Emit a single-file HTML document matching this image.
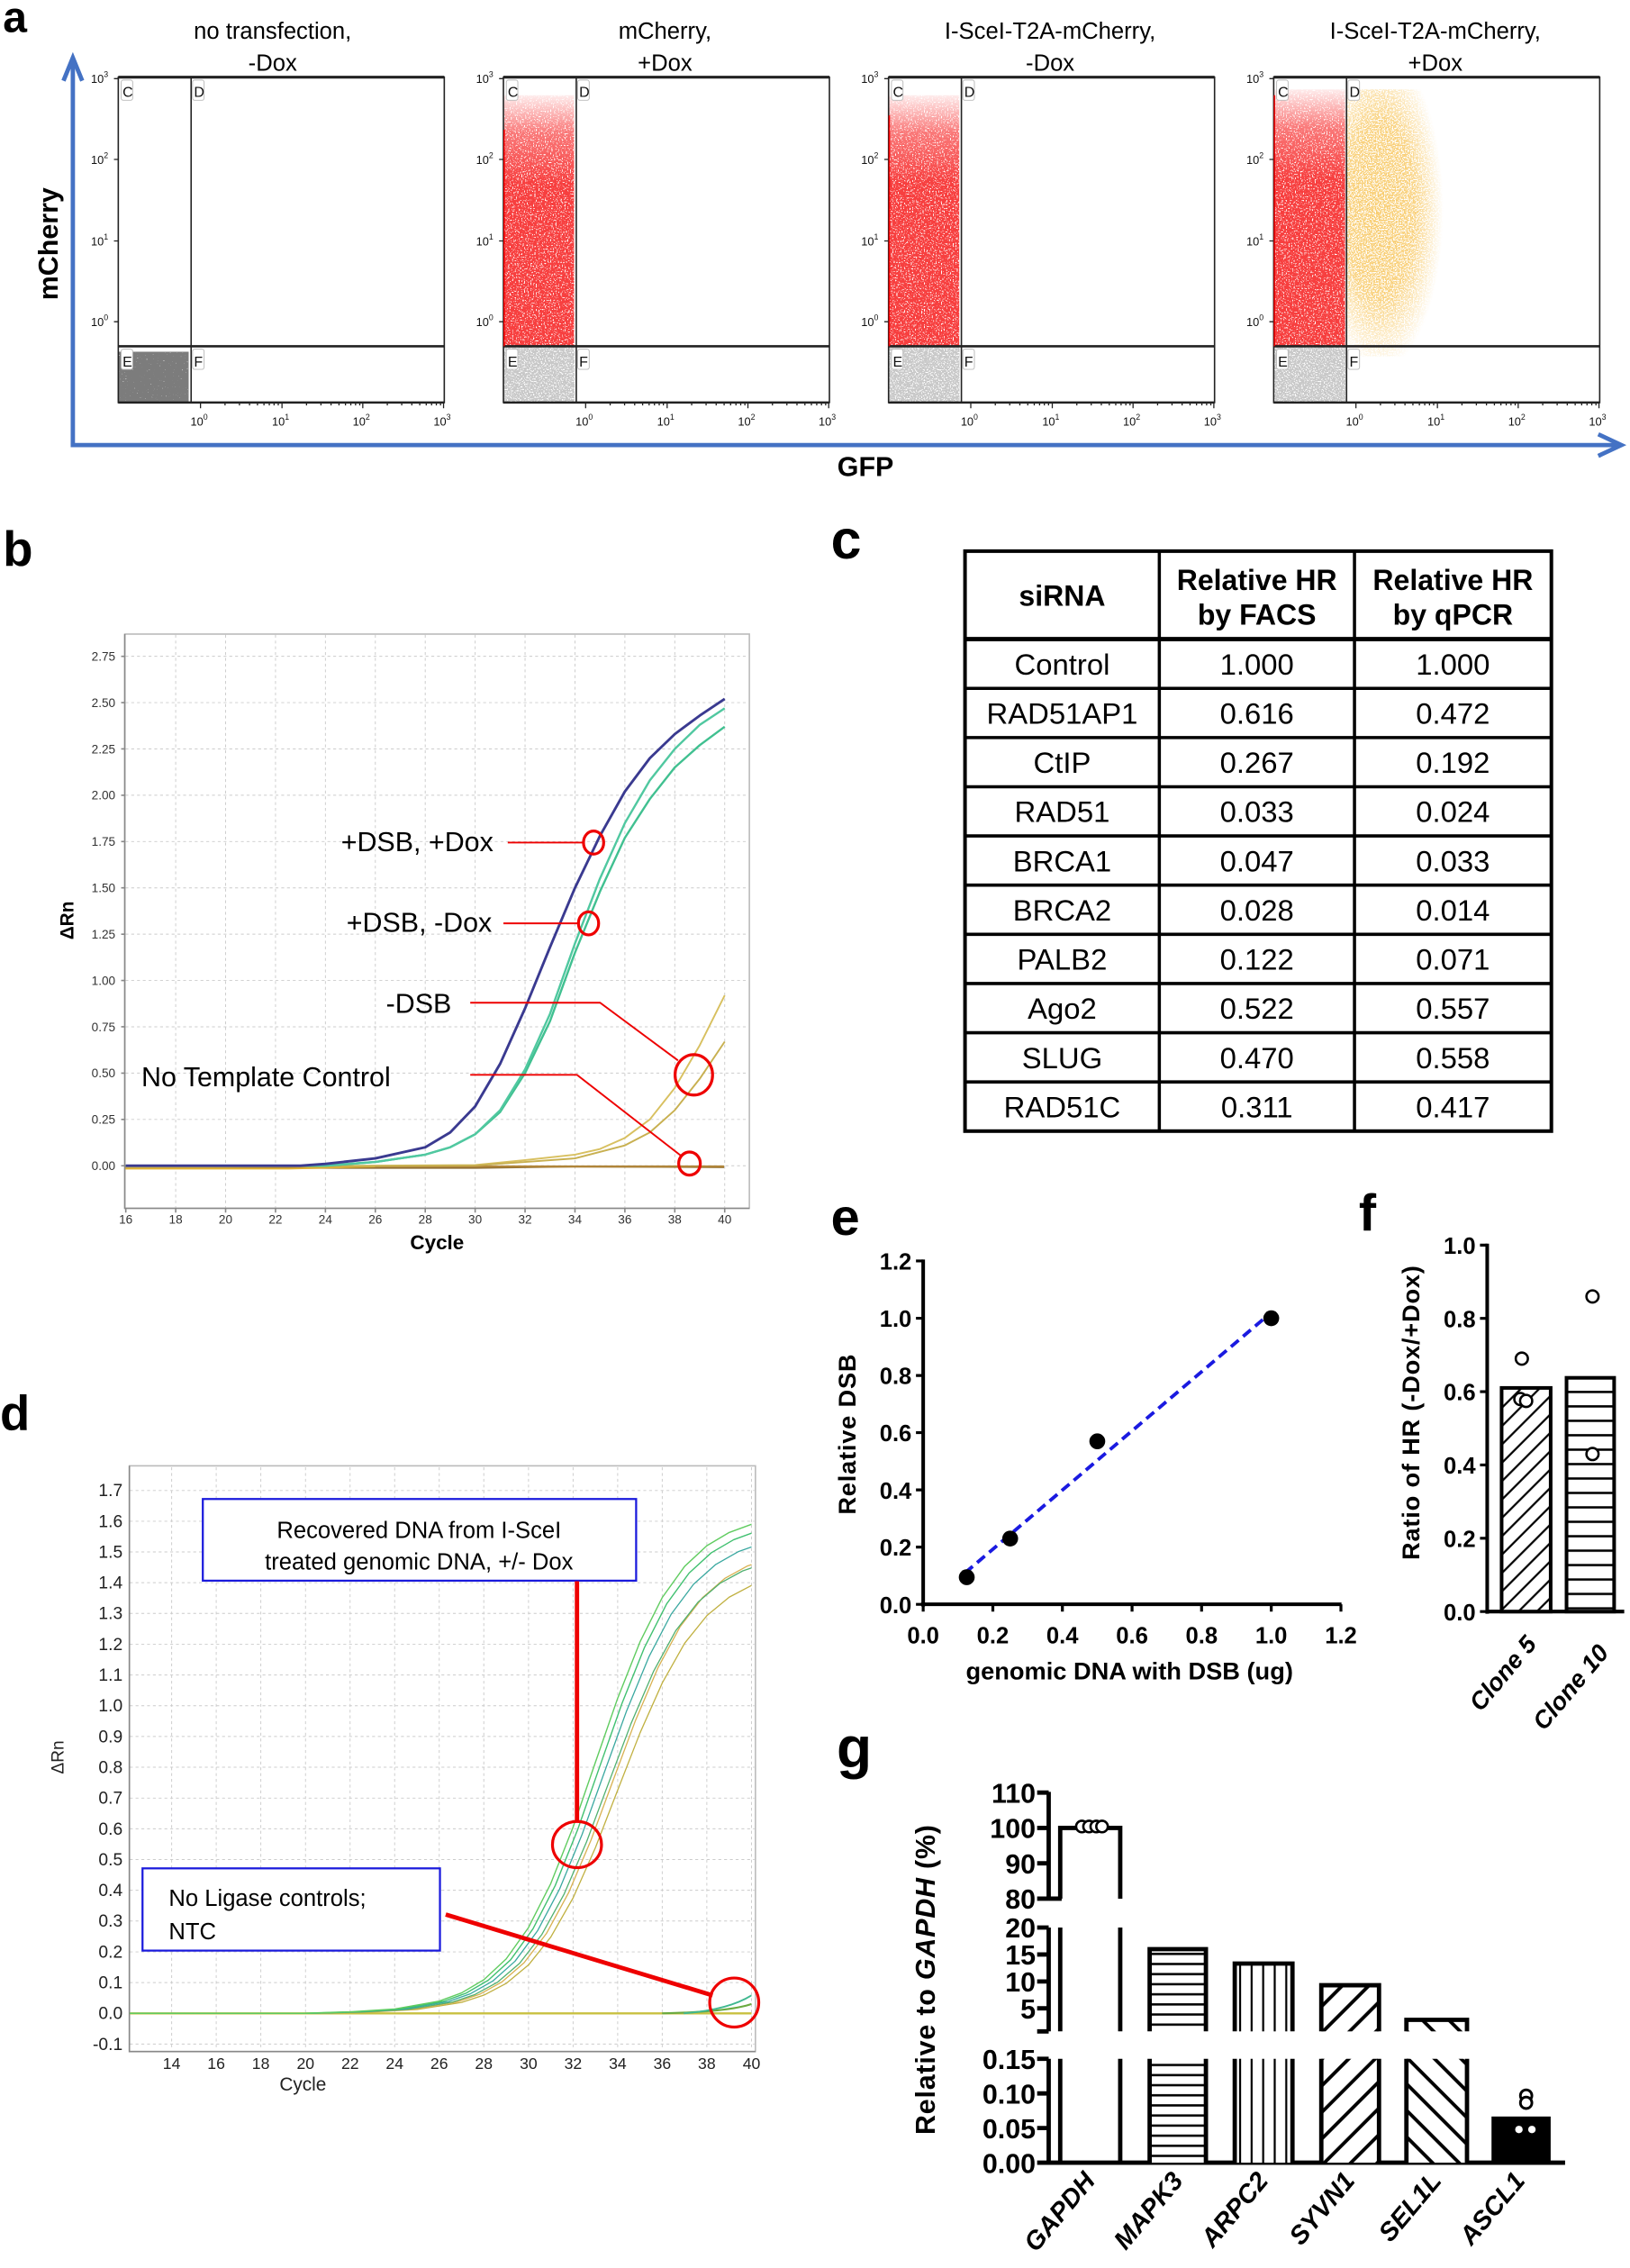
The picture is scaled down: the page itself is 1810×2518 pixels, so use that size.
<!DOCTYPE html>
<html><head><meta charset="utf-8"><style>
html,body{margin:0;padding:0;background:#fff}
svg{display:block}
text{font-family:"Liberation Sans",Arial,sans-serif}
</style></head><body>
<svg xmlns="http://www.w3.org/2000/svg" xmlns:xlink="http://www.w3.org/1999/xlink" width="1810" height="2518" viewBox="0 0 1130 1572" preserveAspectRatio="none">
<defs>
<filter id="fR" x="0" y="0" width="1" height="1" filterUnits="objectBoundingBox"><feTurbulence type="fractalNoise" baseFrequency="1.1" numOctaves="1" seed="3"/><feColorMatrix type="matrix" values="0 0 0 0 0.93 0 0 0 0 0.05 0 0 0 0 0.05 12 0 0 0 -4.0"/></filter>
<filter id="fG" x="0" y="0" width="1" height="1" filterUnits="objectBoundingBox"><feTurbulence type="fractalNoise" baseFrequency="1.1" numOctaves="1" seed="7"/><feColorMatrix type="matrix" values="0 0 0 0 0.58 0 0 0 0 0.58 0 0 0 0 0.58 10 0 0 0 -3.6"/></filter>
<filter id="fK" x="0" y="0" width="1" height="1" filterUnits="objectBoundingBox"><feTurbulence type="fractalNoise" baseFrequency="1.1" numOctaves="1" seed="5"/><feColorMatrix type="matrix" values="0 0 0 0 0.2 0 0 0 0 0.2 0 0 0 0 0.2 14 0 0 0 -3.0"/></filter>
<filter id="fO" x="0" y="0" width="1" height="1" filterUnits="objectBoundingBox"><feTurbulence type="fractalNoise" baseFrequency="1.1" numOctaves="1" seed="11"/><feColorMatrix type="matrix" values="0 0 0 0 0.94 0 0 0 0 0.6 0 0 0 0 0.15 10 0 0 0 -4.2"/></filter>
<linearGradient id="gv" x1="0" y1="0" x2="0" y2="1"><stop offset="0" stop-color="#fff" stop-opacity="0.1"/><stop offset="0.15" stop-color="#fff" stop-opacity="0.7"/><stop offset="0.35" stop-color="#fff" stop-opacity="1"/></linearGradient>
<mask id="mRed" maskContentUnits="objectBoundingBox"><rect width="1" height="1" fill="url(#gv)"/></mask>
<radialGradient id="gr" cx="0.3" cy="0.45" r="0.6"><stop offset="0" stop-color="#fff"/><stop offset="0.55" stop-color="#fff" stop-opacity="0.9"/><stop offset="1" stop-color="#fff" stop-opacity="0"/></radialGradient>
<mask id="mOr" maskContentUnits="objectBoundingBox"><rect width="1" height="1" fill="url(#gr)"/></mask>
<pattern id="hH" width="8" height="7" patternUnits="userSpaceOnUse"><rect width="8" height="7" fill="#fff"/><rect y="2.5" width="8" height="1.6" fill="#000"/></pattern>
<pattern id="hV" width="8" height="8" patternUnits="userSpaceOnUse"><rect width="8" height="8" fill="#fff"/><rect x="3" width="1.4" height="8" fill="#000"/></pattern>
<pattern id="hD" width="13" height="13" patternUnits="userSpaceOnUse" patternTransform="rotate(45)"><rect width="13" height="13" fill="#fff"/><rect x="5" width="2.4" height="13" fill="#000"/></pattern>
<pattern id="hB" width="13" height="13" patternUnits="userSpaceOnUse" patternTransform="rotate(-45)"><rect width="13" height="13" fill="#fff"/><rect x="5" width="2.4" height="13" fill="#000"/></pattern>
<pattern id="hF" width="9" height="9" patternUnits="userSpaceOnUse" patternTransform="rotate(45)"><rect width="9" height="9" fill="#fff"/><rect x="3.5" width="1.4" height="9" fill="#000"/></pattern>
<pattern id="hH2" width="10" height="10" patternUnits="userSpaceOnUse"><rect width="10" height="10" fill="#fff"/><rect y="4" width="10" height="1.6" fill="#000"/></pattern>
<g id="frame" fill="none" stroke="#222" stroke-width="1">
<rect x="0" y="53.5" width="226" height="225.5"/>
<line x1="0" y1="53.5" x2="226" y2="53.5" stroke-width="2"/>
<line x1="50.5" y1="53.5" x2="50.5" y2="279"/>
<line x1="0" y1="240" x2="226" y2="240" stroke-width="1.6"/>
<line x1="0" y1="279" x2="226" y2="279" stroke-width="1.6"/>
<path d="M57 279v4M113.5 279v4M169.5 279v4M225.5 279v4M74 279v2M84 279v2M91 279v2M96.5 279v2M101 279v2M104.7 279v2M108 279v2M110.9 279v2M130.5 279v2M140.5 279v2M147.5 279v2M153 279v2M157.5 279v2M161.2 279v2M164.5 279v2M167.4 279v2M186.5 279v2M196.5 279v2M203.5 279v2M209 279v2M213.5 279v2M217.2 279v2M220.5 279v2M223.4 279v2M-3 54.5h3M-3 110.5h3M-3 167h3M-3 223h3" stroke-width="0.8"/>
<g fill="#fff" stroke="#bbb" stroke-width="0.6"><rect x="2" y="55.5" width="8" height="14" rx="1.5"/><rect x="51.5" y="55.5" width="8" height="14" rx="1.5"/><rect x="2" y="242" width="8" height="14" rx="1.5"/><rect x="51.5" y="242" width="8" height="14" rx="1.5"/></g>
</g>
<path id="dA" d="M40 1395.5L90 1395.5L211.8 1395.4L242.7 1394.4L273.6 1392.5L304.5 1387L320 1381.3L335.4 1372.2L350.9 1357.8L366.4 1336L381.8 1305.6L397.3 1266.4L412.7 1221.7L428.2 1177.1L443.7 1138L459.1 1107.3L474.6 1085.7L490 1071.4L505.5 1062.2L521 1056.5L536.4 1054.4L551.9 1053.3" fill="none" vector-effect="non-scaling-stroke" stroke-linejoin="round"/>
<clipPath id="cD"><rect x="90" y="1016" width="431" height="406"/></clipPath>
</defs>
<rect width="1130" height="1572" fill="#fff"/>

<!-- Panel a -->
<text x="2" y="22" font-size="30" font-weight="bold">a</text>
<rect x="82.5" y="244" width="48" height="34.5" filter="url(#fK)"/>
<g mask="url(#mRed)"><rect x="349.5" y="66" width="48.5" height="173.5" filter="url(#fR)"/></g>
<rect x="349.5" y="240.5" width="48.5" height="38" filter="url(#fG)"/>
<g mask="url(#mRed)"><rect x="616.5" y="66" width="48.5" height="173.5" filter="url(#fR)"/></g>
<rect x="616.5" y="240.5" width="48.5" height="38" filter="url(#fG)"/>
<g mask="url(#mRed)"><rect x="883.5" y="62" width="49" height="177.5" filter="url(#fR)"/></g>
<rect x="883.5" y="240.5" width="49" height="38" filter="url(#fG)"/>
<g mask="url(#mOr)"><rect x="934" y="62" width="74" height="185" filter="url(#fO)"/></g>
<use xlink:href="#frame" href="#frame" x="82"/>
<use xlink:href="#frame" href="#frame" x="349"/>
<use xlink:href="#frame" href="#frame" x="616"/>
<use xlink:href="#frame" href="#frame" x="883"/>
<line x1="883.5" y1="66" x2="883.5" y2="240" stroke="#e00" stroke-width="1"/>
<line x1="349.5" y1="90" x2="349.5" y2="240" stroke="#e00" stroke-width="1"/>
<line x1="616.5" y1="80" x2="616.5" y2="240" stroke="#e00" stroke-width="1"/>
<g font-size="10" fill="#111">
<g transform="translate(82,0)"><text x="3" y="67">C</text><text x="52.5" y="67">D</text><text x="3" y="254">E</text><text x="52.5" y="254">F</text></g>
<g transform="translate(349,0)"><text x="3" y="67">C</text><text x="52.5" y="67">D</text><text x="3" y="254">E</text><text x="52.5" y="254">F</text></g>
<g transform="translate(616,0)"><text x="3" y="67">C</text><text x="52.5" y="67">D</text><text x="3" y="254">E</text><text x="52.5" y="254">F</text></g>
<g transform="translate(883,0)"><text x="3" y="67">C</text><text x="52.5" y="67">D</text><text x="3" y="254">E</text><text x="52.5" y="254">F</text></g>
</g>
<g font-size="8" fill="#111" text-anchor="middle">
<g transform="translate(82,0)"><text x="56" y="295">10<tspan dy="-4" font-size="5.5">0</tspan></text><text x="112.5" y="295">10<tspan dy="-4" font-size="5.5">1</tspan></text><text x="168.5" y="295">10<tspan dy="-4" font-size="5.5">2</tspan></text><text x="224.5" y="295">10<tspan dy="-4" font-size="5.5">3</tspan></text>
<text x="-13" y="57.5">10<tspan dy="-4" font-size="5.5">3</tspan></text><text x="-13" y="113.5">10<tspan dy="-4" font-size="5.5">2</tspan></text><text x="-13" y="170">10<tspan dy="-4" font-size="5.5">1</tspan></text><text x="-13" y="226">10<tspan dy="-4" font-size="5.5">0</tspan></text></g>
<g transform="translate(349,0)"><text x="56" y="295">10<tspan dy="-4" font-size="5.5">0</tspan></text><text x="112.5" y="295">10<tspan dy="-4" font-size="5.5">1</tspan></text><text x="168.5" y="295">10<tspan dy="-4" font-size="5.5">2</tspan></text><text x="224.5" y="295">10<tspan dy="-4" font-size="5.5">3</tspan></text>
<text x="-13" y="57.5">10<tspan dy="-4" font-size="5.5">3</tspan></text><text x="-13" y="113.5">10<tspan dy="-4" font-size="5.5">2</tspan></text><text x="-13" y="170">10<tspan dy="-4" font-size="5.5">1</tspan></text><text x="-13" y="226">10<tspan dy="-4" font-size="5.5">0</tspan></text></g>
<g transform="translate(616,0)"><text x="56" y="295">10<tspan dy="-4" font-size="5.5">0</tspan></text><text x="112.5" y="295">10<tspan dy="-4" font-size="5.5">1</tspan></text><text x="168.5" y="295">10<tspan dy="-4" font-size="5.5">2</tspan></text><text x="224.5" y="295">10<tspan dy="-4" font-size="5.5">3</tspan></text>
<text x="-13" y="57.5">10<tspan dy="-4" font-size="5.5">3</tspan></text><text x="-13" y="113.5">10<tspan dy="-4" font-size="5.5">2</tspan></text><text x="-13" y="170">10<tspan dy="-4" font-size="5.5">1</tspan></text><text x="-13" y="226">10<tspan dy="-4" font-size="5.5">0</tspan></text></g>
<g transform="translate(883,0)"><text x="56" y="295">10<tspan dy="-4" font-size="5.5">0</tspan></text><text x="112.5" y="295">10<tspan dy="-4" font-size="5.5">1</tspan></text><text x="168.5" y="295">10<tspan dy="-4" font-size="5.5">2</tspan></text><text x="224.5" y="295">10<tspan dy="-4" font-size="5.5">3</tspan></text>
<text x="-13" y="57.5">10<tspan dy="-4" font-size="5.5">3</tspan></text><text x="-13" y="113.5">10<tspan dy="-4" font-size="5.5">2</tspan></text><text x="-13" y="170">10<tspan dy="-4" font-size="5.5">1</tspan></text><text x="-13" y="226">10<tspan dy="-4" font-size="5.5">0</tspan></text></g>
</g>
<line x1="50.5" y1="308.5" x2="50.5" y2="44" stroke="#4472c4" stroke-width="3"/>
<polyline points="44,56 50.5,40 57,56" fill="none" stroke="#4472c4" stroke-width="3"/>
<line x1="49" y1="308.5" x2="1121" y2="308.5" stroke="#4472c4" stroke-width="3"/>
<polyline points="1108,301 1124,308.5 1108,316" fill="none" stroke="#4472c4" stroke-width="3"/>
<text transform="translate(40,169) rotate(-90)" font-size="19" font-weight="bold" text-anchor="middle">mCherry</text>
<text x="600" y="330" font-size="19" font-weight="bold" text-anchor="middle">GFP</text>
<g font-size="16" text-anchor="middle">
<text x="189" y="27">no transfection,</text><text x="189" y="49">-Dox</text>
<text x="461" y="27">mCherry,</text><text x="461" y="49">+Dox</text>
<text x="728" y="27">I-SceI-T2A-mCherry,</text><text x="728" y="49">-Dox</text>
<text x="995" y="27">I-SceI-T2A-mCherry,</text><text x="995" y="49">+Dox</text>
</g>

<!-- Panel b -->
<text x="2" y="392" font-size="34" font-weight="bold">b</text>
<rect x="86.5" y="439.5" width="433" height="398" fill="#fff" stroke="#bbb" stroke-width="1"/>
<g stroke="#ccc" stroke-width="0.6" stroke-dasharray="2,2">
<path d="M121.8 440V837M156.4 440V837M191 440V837M225.6 440V837M260.2 440V837M294.8 440V837M329.4 440V837M364 440V837M398.6 440V837M433.2 440V837M467.8 440V837M502.4 440V837"/>
<path d="M87 808H519M87 775.9H519M87 743.8H519M87 711.7H519M87 679.6H519M87 647.5H519M87 615.4H519M87 583.3H519M87 551.2H519M87 519.1H519M87 487H519M87 454.9H519"/>
</g>
<path d="M86.5 439.5V837.5H519.5" fill="none" stroke="#888"/>
<path d="M87.2 837.5v3M121.8 837.5v3M156.4 837.5v3M191 837.5v3M225.6 837.5v3M260.2 837.5v3M294.8 837.5v3M329.4 837.5v3M364 837.5v3M398.6 837.5v3M433.2 837.5v3M467.8 837.5v3M502.4 837.5v3M84 808h2.5M84 775.9h2.5M84 743.8h2.5M84 711.7h2.5M84 679.6h2.5M84 647.5h2.5M84 615.4h2.5M84 583.3h2.5M84 551.2h2.5M84 519.1h2.5M84 487h2.5M84 454.9h2.5" stroke="#888"/>
<g font-size="8.5" fill="#333" text-anchor="middle">
<text x="87.2" y="848">16</text><text x="121.8" y="848">18</text><text x="156.4" y="848">20</text><text x="191" y="848">22</text><text x="225.6" y="848">24</text><text x="260.2" y="848">26</text><text x="294.8" y="848">28</text><text x="329.4" y="848">30</text><text x="364" y="848">32</text><text x="398.6" y="848">34</text><text x="433.2" y="848">36</text><text x="467.8" y="848">38</text><text x="502.4" y="848">40</text>
</g>
<g font-size="8.5" fill="#333" text-anchor="end">
<text x="80" y="811">0.00</text><text x="80" y="778.9">0.25</text><text x="80" y="746.8">0.50</text><text x="80" y="714.7">0.75</text><text x="80" y="682.6">1.00</text><text x="80" y="650.5">1.25</text><text x="80" y="618.4">1.50</text><text x="80" y="586.3">1.75</text><text x="80" y="554.2">2.00</text><text x="80" y="522.1">2.25</text><text x="80" y="490">2.50</text><text x="80" y="457.9">2.75</text>
</g>
<g fill="none" stroke-linejoin="round">
<path d="M87 809.5H330L400 808.5 502 809" stroke="#8a6a30" stroke-width="1.3"/>
<path d="M87 808.5H502" stroke="#b0853a" stroke-width="1.5"/>
<path d="M87 810H200L260 808.5" stroke="#e0b030" stroke-width="1.2"/>
<polyline points="87.2,809 329.4,807.5 364,804.1 398.6,800.3 415.9,796.4 433.2,788.7 450.5,775.9 467.8,754.1 485.1,724.5 502.4,689.9" stroke="#d8c060" stroke-width="1.2"/>
<polyline points="87.2,809 329.4,807.8 364,805.4 398.6,802.9 433.2,793.9 450.5,784.9 467.8,769.5 485.1,747.7 502.4,722" stroke="#c8b050" stroke-width="1.2"/>
<polyline points="87.2,808 225.6,808 260.2,805.4 294.8,800.3 312.1,795.2 329.4,786.2 346.7,770.8 364,743.8 381.3,707.8 398.6,660.3 415.9,618 433.2,580.7 450.5,553.8 467.8,531.9 485.1,516.5 502.4,503.7" stroke="#40c090" stroke-width="1.5"/>
<polyline points="87.2,808 225.6,808 260.2,805.4 294.8,800.3 312.1,795.2 329.4,786.2 346.7,769.5 364,741.2 381.3,702.7 398.6,653.9 415.9,609 433.2,570.5 450.5,540.9 467.8,519.1 485.1,502.4 502.4,490.9" stroke="#50c8a0" stroke-width="1.5"/>
<polyline points="87.2,808 208.3,808 225.6,806.7 260.2,802.9 294.8,795.2 312.1,784.9 329.4,766.9 346.7,737.4 364,698.9 381.3,656.5 398.6,615.4 415.9,579.4 433.2,548.6 450.5,525.5 467.8,508.8 485.1,496 502.4,484.4" stroke="#3a3a90" stroke-width="1.8"/>
</g>
<text x="303" y="866" font-size="14" font-weight="bold" text-anchor="middle">Cycle</text>
<text transform="translate(51,638) rotate(-90)" font-size="13" font-weight="bold" text-anchor="middle">ΔRn</text>
<g font-size="19" text-anchor="end">
<text x="342" y="590">+DSB, +Dox</text>
<text x="341" y="646">+DSB, -Dox</text>
<text x="313" y="702">-DSB</text>
</g>
<text x="98" y="753" font-size="19">No Template Control</text>
<g fill="none" stroke="#e00" stroke-width="1.2">
<line x1="352" y1="584" x2="405" y2="584"/>
<line x1="349" y1="640" x2="401" y2="640"/>
<polyline points="326,695 416,695 470,735"/>
<polyline points="326,745 400,745 472,801"/>
</g>
<g fill="none" stroke="#e00" stroke-width="2">
<ellipse cx="411.5" cy="584" rx="7" ry="8"/>
<ellipse cx="408" cy="640" rx="7" ry="8"/>
<ellipse cx="481" cy="745" rx="13" ry="14"/>
<ellipse cx="478" cy="806.5" rx="7.5" ry="8"/>
</g>

<!-- Panel c -->
<text x="576" y="387" font-size="38" font-weight="bold">c</text>
<g font-size="20" font-weight="bold" text-anchor="middle">
<text x="736.35" y="420">siRNA</text>
<text x="871.35" y="409">Relative HR</text><text x="871.35" y="433">by FACS</text>
<text x="1007.25" y="409">Relative HR</text><text x="1007.25" y="433">by qPCR</text>
</g>
<g font-size="20.5" text-anchor="middle">
<text x="736.35" y="467.5">Control</text><text x="871.35" y="467.5">1.000</text><text x="1007.25" y="467.5">1.000</text>
<text x="736.35" y="501.6">RAD51AP1</text><text x="871.35" y="501.6">0.616</text><text x="1007.25" y="501.6">0.472</text>
<text x="736.35" y="535.7">CtIP</text><text x="871.35" y="535.7">0.267</text><text x="1007.25" y="535.7">0.192</text>
<text x="736.35" y="569.8">RAD51</text><text x="871.35" y="569.8">0.033</text><text x="1007.25" y="569.8">0.024</text>
<text x="736.35" y="603.9">BRCA1</text><text x="871.35" y="603.9">0.047</text><text x="1007.25" y="603.9">0.033</text>
<text x="736.35" y="638">BRCA2</text><text x="871.35" y="638">0.028</text><text x="1007.25" y="638">0.014</text>
<text x="736.35" y="672.1">PALB2</text><text x="871.35" y="672.1">0.122</text><text x="1007.25" y="672.1">0.071</text>
<text x="736.35" y="706.2">Ago2</text><text x="871.35" y="706.2">0.522</text><text x="1007.25" y="706.2">0.557</text>
<text x="736.35" y="740.3">SLUG</text><text x="871.35" y="740.3">0.470</text><text x="1007.25" y="740.3">0.558</text>
<text x="736.35" y="774.4">RAD51C</text><text x="871.35" y="774.4">0.311</text><text x="1007.25" y="774.4">0.417</text>
</g>
<rect x="669" y="382" width="406.5" height="402" fill="none" stroke="#000" stroke-width="2.5"/>
<path d="M669 443H1075.5" stroke="#000" stroke-width="3"/>
<path d="M669 477.1H1075.5M669 511.2H1075.5M669 545.3H1075.5M669 579.4H1075.5M669 613.5H1075.5M669 647.6H1075.5M669 681.7H1075.5M669 715.8H1075.5M669 749.9H1075.5M803.7 382V784M939 382V784" stroke="#000" stroke-width="2.2"/>

<!-- Panel d -->
<text x="0" y="991" font-size="34" font-weight="bold">d</text>
<rect x="89.7" y="1016" width="434" height="406" fill="#fff" stroke="#bbb"/>
<g stroke="#ccc" stroke-width="0.6" stroke-dasharray="2,2">
<path d="M119 1017V1421M149.9 1017V1421M180.8 1017V1421M211.8 1017V1421M242.7 1017V1421M273.6 1017V1421M304.5 1017V1421M335.4 1017V1421M366.4 1017V1421M397.3 1017V1421M428.2 1017V1421M459.1 1017V1421M490 1017V1421M521 1017V1421"/>
<path d="M90 1416.8H523M90 1395.5H523M90 1374.2H523M90 1352.9H523M90 1331.5H523M90 1310.2H523M90 1288.9H523M90 1267.6H523M90 1246.3H523M90 1224.9H523M90 1203.6H523M90 1182.3H523M90 1161H523M90 1139.7H523M90 1118.3H523M90 1097H523M90 1075.7H523M90 1054.4H523M90 1033.1H523"/>
</g>
<path d="M89.7 1016V1422H523.7" fill="none" stroke="#888"/>
<g font-size="11" fill="#222" text-anchor="middle">
<text x="119" y="1434">14</text><text x="149.9" y="1434">16</text><text x="180.8" y="1434">18</text><text x="211.8" y="1434">20</text><text x="242.7" y="1434">22</text><text x="273.6" y="1434">24</text><text x="304.5" y="1434">26</text><text x="335.4" y="1434">28</text><text x="366.4" y="1434">30</text><text x="397.3" y="1434">32</text><text x="428.2" y="1434">34</text><text x="459.1" y="1434">36</text><text x="490" y="1434">38</text><text x="521" y="1434">40</text>
</g>
<g font-size="12" fill="#222" text-anchor="end">
<text x="85" y="1420.8">-0.1</text><text x="85" y="1399.5">0.0</text><text x="85" y="1378.2">0.1</text><text x="85" y="1356.9">0.2</text><text x="85" y="1335.5">0.3</text><text x="85" y="1314.2">0.4</text><text x="85" y="1292.9">0.5</text><text x="85" y="1271.6">0.6</text><text x="85" y="1250.3">0.7</text><text x="85" y="1228.9">0.8</text><text x="85" y="1207.6">0.9</text><text x="85" y="1186.3">1.0</text><text x="85" y="1165">1.1</text><text x="85" y="1143.7">1.2</text><text x="85" y="1122.3">1.3</text><text x="85" y="1101">1.4</text><text x="85" y="1079.7">1.5</text><text x="85" y="1058.4">1.6</text><text x="85" y="1037.1">1.7</text>
</g>
<g clip-path="url(#cD)" fill="none">
<path d="M90 1395.5H521" stroke="#c8c040" stroke-width="1.5"/>
<path d="M459 1395.5Q505 1394.5 521 1389" stroke="#6aaa40" stroke-width="1.3"/>
<path d="M474 1395.5Q505 1393 521 1383" stroke="#40b890" stroke-width="1.2"/>
<use xlink:href="#dA" href="#dA" stroke="#c0b040" stroke-width="1.3" transform="translate(15.5,1395.5) scale(1,0.89) translate(0,-1395.5)"/>
<use xlink:href="#dA" href="#dA" stroke="#d8b050" stroke-width="1.3" transform="translate(12.4,1395.5) scale(1,0.93) translate(0,-1395.5)"/>
<use xlink:href="#dA" href="#dA" stroke="#50b070" stroke-width="1.3" transform="translate(9.3,1395.5) scale(1,0.92) translate(0,-1395.5)"/>
<use xlink:href="#dA" href="#dA" stroke="#3aa8a0" stroke-width="1.3" transform="translate(6.2,1395.5) scale(1,0.96) translate(0,-1395.5)"/>
<use xlink:href="#dA" href="#dA" stroke="#40c070" stroke-width="1.4" transform="translate(3.1,1395.5) scale(1,0.985) translate(0,-1395.5)"/>
<use xlink:href="#dA" href="#dA" stroke="#60cc60" stroke-width="1.4"/>
</g>
<text x="210" y="1449" font-size="13" text-anchor="middle" fill="#222">Cycle</text>
<text transform="translate(44,1218) rotate(-90)" font-size="12" text-anchor="middle" fill="#222">ΔRn</text>
<rect x="140.6" y="1039" width="300.4" height="56.6" fill="#fff" stroke="#1a1adc" stroke-width="1.4"/>
<text x="290.5" y="1066" font-size="16" text-anchor="middle">Recovered DNA from I-SceI</text>
<text x="290.5" y="1088" font-size="16" text-anchor="middle">treated genomic DNA, +/- Dox</text>
<rect x="98.8" y="1295" width="206.2" height="57" fill="#fff" stroke="#1a1adc" stroke-width="1.4"/>
<text x="117" y="1321" font-size="16">No Ligase controls;</text>
<text x="117" y="1344" font-size="16">NTC</text>
<g fill="none" stroke="#e00" stroke-width="3">
<line x1="400" y1="1096" x2="400" y2="1263"/>
<line x1="309" y1="1327" x2="494" y2="1383"/>
</g>
<g fill="none" stroke="#e00" stroke-width="2">
<ellipse cx="400" cy="1278.5" rx="17" ry="16"/>
<ellipse cx="509" cy="1388" rx="17" ry="17"/>
</g>

<!-- Panel e -->
<text x="576" y="856" font-size="36" font-weight="bold">e</text>
<path d="M640 873V1113.5M638.5 1112H930" stroke="#000" stroke-width="2.5" fill="none"/>
<path d="M635 1112h5M635 1072.3h5M635 1032.7h5M635 993h5M635 953.4h5M635 913.7h5M635 874h5M640 1112v5M688.3 1112v5M736.5 1112v5M784.8 1112v5M833 1112v5M881.3 1112v5M929.6 1112v5" stroke="#000" stroke-width="2"/>
<g font-size="16" font-weight="bold" text-anchor="end">
<text x="632" y="1118">0.0</text><text x="632" y="1078.3">0.2</text><text x="632" y="1038.7">0.4</text><text x="632" y="999">0.6</text><text x="632" y="959.4">0.8</text><text x="632" y="919.7">1.0</text><text x="632" y="880">1.2</text>
</g>
<g font-size="16" font-weight="bold" text-anchor="middle">
<text x="640" y="1139">0.0</text><text x="688.3" y="1139">0.2</text><text x="736.5" y="1139">0.4</text><text x="784.8" y="1139">0.6</text><text x="833" y="1139">0.8</text><text x="881.3" y="1139">1.0</text><text x="929.6" y="1139">1.2</text>
</g>
<line x1="669" y1="1090.2" x2="881.3" y2="909.7" stroke="#1a1ae0" stroke-width="2.4" stroke-dasharray="7,4"/>
<circle cx="670.2" cy="1093.2" r="5.5"/><circle cx="700.3" cy="1066.4" r="5.5"/><circle cx="760.7" cy="999" r="5.5"/><circle cx="881.3" cy="913.7" r="5.5"/>
<text transform="translate(593,994) rotate(-90)" font-size="17" font-weight="bold" text-anchor="middle" letter-spacing="0.5">Relative DSB</text>
<text x="783" y="1164" font-size="17" font-weight="bold" text-anchor="middle">genomic DNA with DSB (ug)</text>

<!-- Panel f -->
<text x="942" y="853" font-size="36" font-weight="bold">f</text>
<path d="M1031 862V1118.5M1030 1117H1126" stroke="#000" stroke-width="2.5" fill="none"/>
<path d="M1026 1117h5M1026 1066.2h5M1026 1015.4h5M1026 964.6h5M1026 913.8h5M1026 863h5" stroke="#000" stroke-width="2"/>
<g font-size="16" font-weight="bold" text-anchor="end">
<text x="1023" y="1123">0.0</text><text x="1023" y="1072.2">0.2</text><text x="1023" y="1021.4">0.4</text><text x="1023" y="970.6">0.6</text><text x="1023" y="919.8">0.8</text><text x="1023" y="869">1.0</text>
</g>
<rect x="1041" y="962" width="34" height="155" fill="url(#hF)" stroke="#000" stroke-width="2.5"/>
<rect x="1086" y="955" width="33" height="162" fill="url(#hH2)" stroke="#000" stroke-width="2.5"/>
<g fill="#fff" stroke="#000" stroke-width="1.6">
<circle cx="1055" cy="941.7" r="4.2"/><circle cx="1054" cy="969.7" r="4.2"/><circle cx="1058" cy="971" r="4.2"/><circle cx="1104" cy="898.6" r="4.2"/><circle cx="1104" cy="1007.8" r="4.2"/>
</g>
<text transform="translate(984,979) rotate(-90)" font-size="17" font-weight="bold" text-anchor="middle" letter-spacing="0.5">Ratio of HR (-Dox/+Dox)</text>
<text transform="translate(1066,1140) rotate(-50)" font-size="17" font-weight="bold" font-style="italic" text-anchor="end">Clone 5</text>
<text transform="translate(1116,1146) rotate(-50)" font-size="17" font-weight="bold" font-style="italic" text-anchor="end">Clone 10</text>

<!-- Panel g -->
<text x="580" y="1225" font-size="40" font-weight="bold">g</text>
<g stroke="#000" stroke-width="3" fill="none">
<path d="M727 1242V1316M727 1336V1408M727 1427V1500M725.5 1499H1085M727 1316H736"/>
<path d="M719 1242.5h8M719 1267h8M719 1291.5h8M719 1316h8M719 1336h8M719 1354.7h8M719 1373.4h8M719 1392h8M719 1408h8M719 1427h8M719 1451h8M719 1475h8M719 1499h8"/>
</g>
<g font-size="19" font-weight="bold" text-anchor="end">
<text x="718" y="1249.5">110</text><text x="718" y="1274">100</text><text x="718" y="1298.5">90</text><text x="718" y="1323">80</text>
<text x="718" y="1343">20</text><text x="718" y="1361.7">15</text><text x="718" y="1380.4">10</text><text x="718" y="1399">5</text>
<text x="718" y="1434">0.15</text><text x="718" y="1458">0.10</text><text x="718" y="1482">0.05</text><text x="718" y="1506">0.00</text>
</g>
<path d="M735 1316V1267H776.6V1316M735 1336V1408M776.6 1336V1408M735 1427V1499M776.6 1427V1499" fill="none" stroke="#000" stroke-width="3"/>
<g fill="#fff" stroke="#000" stroke-width="1.6"><circle cx="750" cy="1266" r="4"/><circle cx="755" cy="1266" r="4"/><circle cx="760" cy="1266" r="4"/><circle cx="764" cy="1266" r="4"/></g>
<rect x="797" y="1351" width="39" height="57" fill="url(#hH)"/><rect x="797" y="1427" width="39" height="72" fill="url(#hH)"/>
<rect x="856" y="1361" width="40" height="47" fill="url(#hV)"/><rect x="856" y="1427" width="40" height="72" fill="url(#hV)"/>
<rect x="916" y="1376" width="40" height="32" fill="url(#hD)"/><rect x="916" y="1427" width="40" height="72" fill="url(#hD)"/>
<rect x="975" y="1400" width="42" height="8" fill="url(#hB)"/><rect x="975" y="1427" width="42" height="72" fill="url(#hB)"/>
<path d="M797 1408V1351H836V1408M797 1427V1499M836 1427V1499M856 1408V1361H896V1408M856 1427V1499M896 1427V1499M916 1408V1376H956V1408M916 1427V1499M956 1427V1499M975 1408V1400H1017V1408M975 1427V1499M1017 1427V1499" fill="none" stroke="#000" stroke-width="3"/>
<rect x="1034" y="1467" width="41" height="32" fill="#000"/>
<circle cx="1053" cy="1476" r="2.6" fill="#fff"/><circle cx="1062" cy="1476" r="2.6" fill="#fff"/>
<circle cx="1058" cy="1452.5" r="4" fill="#fff" stroke="#000" stroke-width="1.8"/><circle cx="1058" cy="1457.5" r="4" fill="#fff" stroke="#000" stroke-width="1.8"/>
<text transform="translate(648,1372) rotate(-90)" font-size="19" font-weight="bold" text-anchor="middle" letter-spacing="0.5">Relative to <tspan font-style="italic">GAPDH</tspan> (%)</text>
<g font-size="18" font-weight="bold" font-style="italic" text-anchor="end">
<text transform="translate(760,1512) rotate(-50)">GAPDH</text>
<text transform="translate(821,1512) rotate(-50)">MAPK3</text>
<text transform="translate(880,1512) rotate(-50)">ARPC2</text>
<text transform="translate(940,1512) rotate(-50)">SYVN1</text>
<text transform="translate(1000,1512) rotate(-50)">SEL1L</text>
<text transform="translate(1058,1512) rotate(-50)">ASCL1</text>
</g>
</svg>
</body></html>
